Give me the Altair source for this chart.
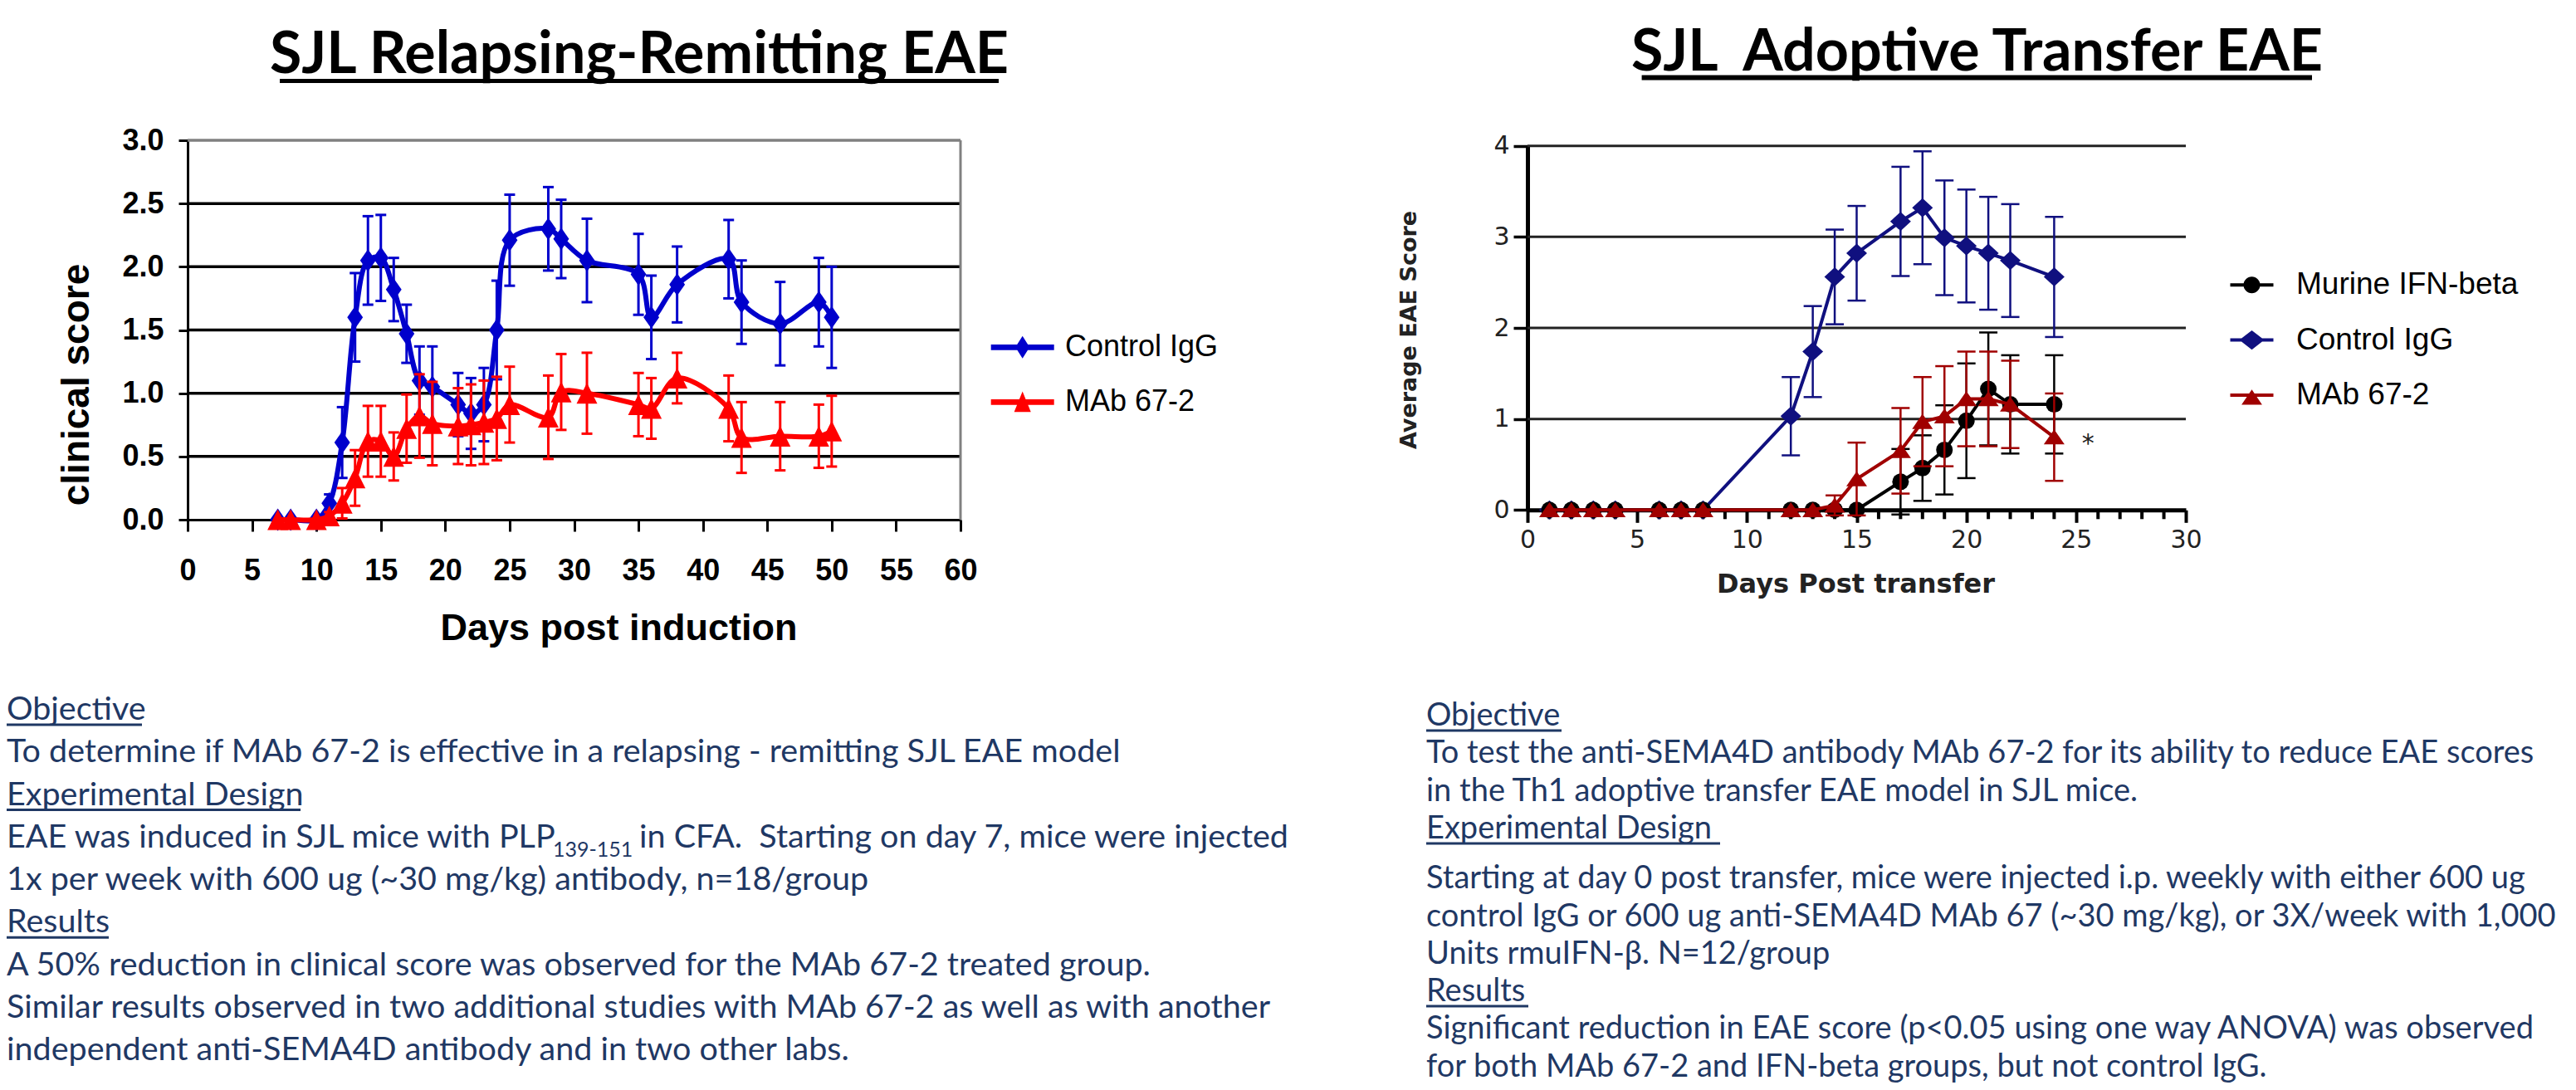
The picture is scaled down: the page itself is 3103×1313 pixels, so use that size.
import altair as alt
import pandas as pd

# ---------------- canvas ----------------
W, H = 3087, 1297
M = 8  # page margin


def px(v):
    return v - M


# ---------------- data: SJL relapsing-remitting EAE ----------------
RR_DAYS = [7, 8, 10, 11, 12, 13, 14, 15, 16, 17, 18, 19, 21, 22, 23, 24, 25, 28, 29, 31, 35, 36, 38, 42, 43, 46, 49, 50]
RR_IGG = [0, 0, 0, 0.13, 0.61, 1.60, 2.05, 2.07, 1.82, 1.47, 1.10, 1.05, 0.91, 0.84, 0.91, 1.50, 2.21, 2.30, 2.22, 2.05,
          1.94, 1.60, 1.86, 2.06, 1.72, 1.55, 1.72, 1.60]
RR_IGG_SE = [0, 0, 0, 0.07, 0.28, 0.35, 0.35, 0.34, 0.25, 0.23, 0.27, 0.32, 0.25, 0.28, 0.29, 0.39, 0.36, 0.33, 0.31,
             0.33, 0.32, 0.33, 0.30, 0.31, 0.33, 0.33, 0.35, 0.40]
RR_MAB = [0, 0, 0, 0.03, 0.13, 0.33, 0.62, 0.62, 0.50, 0.72, 0.82, 0.76, 0.74, 0.75, 0.77, 0.80, 0.91, 0.81, 1.01, 1.00,
          0.91, 0.88, 1.12, 0.88, 0.65, 0.66, 0.66, 0.70]
RR_MAB_SE = [0, 0, 0, 0.03, 0.12, 0.22, 0.28, 0.28, 0.19, 0.27, 0.33, 0.33, 0.30, 0.32, 0.33, 0.33, 0.30, 0.33, 0.30,
             0.32, 0.25, 0.24, 0.20, 0.26, 0.28, 0.27, 0.25, 0.28]
RR_SERIES = ["Control IgG", "MAb 67-2"]
RR_XTICKS = list(range(0, 61, 5))
RR_YTICKS = [0, 0.5, 1.0, 1.5, 2.0, 2.5, 3.0]
RR_GRID = [0.5, 1.0, 1.5, 2.0, 2.5]

# ---------------- data: SJL adoptive transfer EAE ----------------
AT_DAYS = [1, 2, 3, 4, 6, 7, 8, 12, 13, 14, 15, 17, 18, 19, 20, 21, 22, 24]
AT_IFN = [0, 0, 0, 0, 0, 0, 0, 0, 0, 0, 0, 0.31, 0.46, 0.66, 0.98, 1.33, 1.16, 1.16]
AT_IFN_SE = [0, 0, 0, 0, 0, 0, 0, 0, 0, 0, 0, 0.36, 0.36, 0.49, 0.63, 0.62, 0.54, 0.54]
AT_IGG = [0, 0, 0, 0, 0, 0, 0, 1.03, 1.74, 2.56, 2.82, 3.17, 3.32, 2.99, 2.90, 2.82, 2.74, 2.56]
AT_IGG_SE = [0, 0, 0, 0, 0, 0, 0, 0.43, 0.50, 0.52, 0.52, 0.60, 0.62, 0.63, 0.62, 0.62, 0.62, 0.66]
AT_MAB = [0, 0, 0, 0, 0, 0, 0, 0, 0, 0.05, 0.34, 0.65, 0.97, 1.03, 1.22, 1.22, 1.16, 0.80]
AT_MAB_SE = [0, 0, 0, 0, 0, 0, 0, 0, 0, 0.11, 0.40, 0.47, 0.49, 0.55, 0.52, 0.52, 0.48, 0.48]
AT_SERIES = ["Murine IFN-beta", "Control IgG", "MAb 67-2"]
AT_XTICKS = list(range(0, 31, 5))
AT_MINOR = [d for d in range(1, 30) if d % 5 != 0]
AT_YTICKS = [0, 1, 2, 3, 4]
AT_GRID = [1, 2, 3, 4]
AT_STAR = {"day": [25.55], "score": [0.8], "label": ["*"]}

# ---------------- slide text ----------------
TITLE_LEFT = "SJL Relapsing-Remitting EAE"
TITLE_RIGHT = "SJL\u00a0 Adoptive Transfer EAE"
LEFT_LINES = [
    "Objective",
    "\u00a0To determine if MAb 67-2 is effective in a relapsing - remitting SJL EAE model",
    "Experimental Design",
    "",
    "1x per week with 600 ug (~30 mg/kg) antibody, n=18/group",
    "Results",
    "\u00a0A 50% reduction in clinical score was observed for the MAb 67-2 treated group.",
    "Similar results observed in two additional studies with MAb 67-2 as well as with another",
    "independent anti-SEMA4D antibody and in two other labs.",
]
LEFT_SEG = ["EAE was induced in SJL mice with PLP", "139-151", "in CFA.\u00a0 Starting on day 7, mice were injected"]
RIGHT_LINES = [
    "Objective",
    "To test the anti-SEMA4D antibody MAb 67-2 for its ability to reduce EAE scores",
    "in the Th1 adoptive transfer EAE model in SJL mice.",
    "Experimental Design",
    "Starting at day 0 post transfer, mice were injected i.p. weekly with either 600 ug",
    "control IgG or 600 ug anti-SEMA4D MAb 67 (~30 mg/kg), or 3X/week with 1,000",
    "Units rmuIFN-\u03b2. N=12/group",
    "Results",
    "Significant reduction in EAE score (p<0.05 using one way ANOVA) was observed",
    "for both MAb 67-2 and IFN-beta groups, but not control IgG.",
]
HEADINGS = ["Objective", "Experimental Design", "Results"]
HEADING_W = {"Objective": 163, "Experimental Design": 354, "Results": 123}

# ---------------- styles ----------------
NAVY_TXT = "#1F3864"
RR_COLORS = ["#0000CC", "#FF0000"]
AT_COLORS = ["#000000", "#10107F", "#A00000"]

RR_DIAMOND = "M0,-1L0.7,0L0,1L-0.7,0Z"
RR_TRI = "M0,-1L1,1L-1,1Z"
AT_DIAMOND = "M0,-0.92L1,0L0,0.92L-1,0Z"
AT_TRI = "M0,-0.75L1,0.7L-1,0.7Z"

RR_LEG_SHAPES = [
    "M-2,-0.18L2,-0.18L2,0.18L-2,0.18Z M0,-0.71L0.45,0L0,0.71L-0.45,0Z",
    "M-2,-0.18L2,-0.18L2,0.18L-2,0.18Z M0,-0.68L0.53,0.63L-0.53,0.63Z",
]
AT_LEG_SHAPES = [
    "M-1.3,-0.1L1.3,-0.1L1.3,0.1L-1.3,0.1Z M0.5,0A0.5,0.5,0,1,1,-0.5,0A0.5,0.5,0,1,1,0.5,0Z",
    "M-1.3,-0.1L1.3,-0.1L1.3,0.1L-1.3,0.1Z M0,-0.58L0.75,0L0,0.58L-0.75,0Z",
    "M-1.3,-0.1L1.3,-0.1L1.3,0.1L-1.3,0.1Z M0,-0.33L0.62,0.58L-0.62,0.58Z",
]

# ---------------- scales & axes: left ----------------
LX = alt.Scale(domain=[0, 60], range=[px(226), px(1157)], nice=False, zero=False)
LY = alt.Scale(domain=[0, 3], range=[px(626), px(169)], nice=False, zero=False)
LXAX = alt.Axis(orient="bottom", offset=-(H - px(626)), values=RR_XTICKS, format="d", grid=False,
                domainColor="black", domainWidth=3, tickColor="black", tickWidth=3, tickSize=14,
                labelFont="Liberation Sans", labelFontWeight="bold", labelFontSize=36, labelColor="black",
                labelPadding=30, labelFlush=False, labelOverlap=False,
                title="Days post induction", titleFont="Liberation Sans", titleFontSize=45,
                titleFontWeight="bold", titleColor="black", titleX=px(745), titleY=108,
                titleAlign="center", titleBaseline="top")
LYAX = alt.Axis(orient="left", offset=-px(226), values=RR_YTICKS, format=".1f", grid=False,
                domainColor="black", domainWidth=3, tickColor="black", tickWidth=3, tickSize=11,
                labelFont="Liberation Sans", labelFontWeight="bold", labelFontSize=36, labelColor="black",
                labelPadding=18, labelFlush=False, labelOverlap=False,
                title="clinical score", titleFont="Liberation Sans", titleFontSize=46,
                titleFontWeight="bold", titleColor="black", titleAngle=270,
                titleX=92 - 226, titleY=px(463), titleAlign="center", titleBaseline="middle")

# ---------------- scales & axes: right ----------------
RX = alt.Scale(domain=[0, 30], range=[px(1840), px(2633)], nice=False, zero=False)
RY = alt.Scale(domain=[0, 4], range=[px(614.3), px(175.7)], nice=False, zero=False)
RXAX = alt.Axis(orient="bottom", offset=-(H - px(614.3)), values=AT_XTICKS, format="d", grid=False,
                domainColor="black", domainWidth=5, tickColor="black", tickWidth=4, tickSize=15,
                labelFont="DejaVu Sans", labelFontSize=30, labelColor="#222222", labelPadding=6,
                labelFlush=False, labelOverlap=False,
                title="Days Post transfer", titleFont="DejaVu Sans", titleFontSize=32,
                titleFontWeight="bold", titleColor="#222222", titleX=px(2235), titleY=74,
                titleAlign="center", titleBaseline="top")
RYAX = alt.Axis(orient="left", offset=-px(1840), values=AT_YTICKS, format="d", grid=False,
                domainColor="black", domainWidth=5, tickColor="black", tickWidth=3.5, tickSize=17,
                labelFont="DejaVu Sans", labelFontSize=30, labelColor="#222222", labelPadding=5,
                labelFlush=False, labelOverlap=False,
                title="Average EAE Score", titleFont="DejaVu Sans", titleFontSize=27,
                titleFontWeight="bold", titleColor="#222222", titleAngle=270,
                titleX=1697 - 1840, titleY=px(397), titleAlign="center", titleBaseline="middle")


def series_df(days, mean, se, name):
    return pd.DataFrame({
        "day": days, "mean": mean, "se": se,
        "lo": [m - s for m, s in zip(mean, se)],
        "hi": [m + s for m, s in zip(mean, se)],
        "group": name,
    })


def series_layers(df, color, xs, ys, xax, yax, line_w, err_w, cap, shape, size, interp):
    base = alt.Chart(df)
    X = alt.X("day:Q", scale=xs, axis=xax)
    err = base.transform_filter("datum.se > 0")
    return [
        err.mark_rule(color=color, strokeWidth=err_w).encode(
            x=X, y=alt.Y("lo:Q", scale=ys, axis=yax), y2=alt.Y2("hi:Q")),
        err.mark_rule(color=color, strokeWidth=err_w, xOffset=-cap, x2Offset=cap).encode(
            x=X, x2=alt.X2("day:Q"), y=alt.Y("hi:Q", scale=ys, axis=yax)),
        err.mark_rule(color=color, strokeWidth=err_w, xOffset=-cap, x2Offset=cap).encode(
            x=X, x2=alt.X2("day:Q"), y=alt.Y("lo:Q", scale=ys, axis=yax)),
        base.mark_line(color=color, strokeWidth=line_w, interpolate=interp).encode(
            x=X, y=alt.Y("mean:Q", scale=ys, axis=yax)),
        base.mark_point(filled=True, shape=shape, size=size, color=color, opacity=1, strokeWidth=0).encode(
            x=X, y=alt.Y("mean:Q", scale=ys, axis=yax)),
    ]


def legend_layer(series, colors, shapes, xs, ys, xax, yax, leg):
    df = pd.DataFrame({"group": series, "day": [0] * len(series), "mean": [0] * len(series)})
    return alt.Chart(df).transform_filter("false").mark_point(filled=True, opacity=1).encode(
        x=alt.X("day:Q", scale=xs, axis=xax),
        y=alt.Y("mean:Q", scale=ys, axis=yax),
        color=alt.Color("group:N", scale=alt.Scale(domain=series, range=colors), legend=leg),
        shape=alt.Shape("group:N", scale=alt.Scale(domain=series, range=shapes), legend=leg),
    )


# ---------------- left chart ----------------
one = pd.DataFrame({"k": [0]})
l_grid = alt.Chart(pd.DataFrame({"v": RR_GRID})).mark_rule(color="black", strokeWidth=3.5).encode(
    x=alt.X(datum=0, scale=LX, axis=LXAX), x2=alt.X2(datum=60), y=alt.Y("v:Q", scale=LY, axis=LYAX))
l_top = alt.Chart(one).mark_rule(color="#808080", strokeWidth=3.5).encode(
    x=alt.X(datum=0, scale=LX, axis=LXAX), x2=alt.X2(datum=60), y=alt.Y(datum=3, scale=LY, axis=LYAX))
l_right = alt.Chart(one).mark_rule(color="#808080", strokeWidth=3).encode(
    x=alt.X(datum=60, scale=LX, axis=LXAX), y=alt.Y(datum=0, scale=LY, axis=LYAX), y2=alt.Y2(datum=3))

LLEG = alt.Legend(orient="none", legendX=1204.7, legendY=391.3, title=None, padding=0, direction="vertical",
                  labelFont="Liberation Sans", labelFontSize=36, labelColor="black", labelOffset=32.3,
                  rowPadding=29, symbolSize=1444, symbolStrokeWidth=0, symbolOpacity=1, labelLimit=800)

left_layers = [l_grid, l_top, l_right]
left_layers += series_layers(series_df(RR_DAYS, RR_IGG, RR_IGG_SE, RR_SERIES[0]), RR_COLORS[0], LX, LY, LXAX, LYAX,
                             6, 3, 6.5, RR_DIAMOND, 729, "catmull-rom")
left_layers += series_layers(series_df(RR_DAYS, RR_MAB, RR_MAB_SE, RR_SERIES[1]), RR_COLORS[1], LX, LY, LXAX, LYAX,
                             6, 3, 6.5, RR_TRI, 625, "catmull-rom")
left_layers.append(legend_layer(RR_SERIES, RR_COLORS, RR_LEG_SHAPES, LX, LY, LXAX, LYAX, LLEG))
left = alt.layer(*left_layers)

# ---------------- right chart ----------------
r_grid = alt.Chart(pd.DataFrame({"v": AT_GRID})).mark_rule(color="#222222", strokeWidth=3).encode(
    x=alt.X(datum=0, scale=RX, axis=RXAX), x2=alt.X2(datum=30), y=alt.Y("v:Q", scale=RY, axis=RYAX))
r_minor = alt.Chart(pd.DataFrame({"t": AT_MINOR})).mark_rule(color="black", strokeWidth=4, y2Offset=11).encode(
    x=alt.X("t:Q", scale=RX, axis=RXAX), y=alt.Y(datum=0, scale=RY, axis=RYAX), y2=alt.Y2(datum=0))

RLEG = alt.Legend(orient="none", legendX=2684.5, legendY=315.3, title=None, padding=0, direction="vertical",
                  labelFont="Liberation Sans", labelFontSize=37, labelColor="black", labelOffset=33.5,
                  rowPadding=28.3, symbolSize=1600, symbolStrokeWidth=0, symbolOpacity=1, labelLimit=800)

right_layers = [r_grid, r_minor]
right_layers += series_layers(series_df(AT_DAYS, AT_IGG, AT_IGG_SE, AT_SERIES[1]), AT_COLORS[1], RX, RY, RXAX, RYAX,
                              4, 2.5, 11, AT_DIAMOND, 625, "linear")
right_layers += series_layers(series_df(AT_DAYS, AT_IFN, AT_IFN_SE, AT_SERIES[0]), AT_COLORS[0], RX, RY, RXAX, RYAX,
                              4, 2.5, 11, "circle", 400, "linear")
right_layers += series_layers(series_df(AT_DAYS, AT_MAB, AT_MAB_SE, AT_SERIES[2]), AT_COLORS[2], RX, RY, RXAX, RYAX,
                              4, 2.5, 11, AT_TRI, 625, "linear")
right_layers.append(alt.Chart(pd.DataFrame(AT_STAR)).mark_text(
    font="DejaVu Sans", fontSize=30, color="#222222", align="center", baseline="middle", dy=8).encode(
    x=alt.X("day:Q", scale=RX, axis=RXAX), y=alt.Y("score:Q", scale=RY, axis=RYAX), text="label:N"))
right_layers.append(legend_layer(AT_SERIES, AT_COLORS, AT_LEG_SHAPES, RX, RY, RXAX, RYAX, RLEG))
right = alt.layer(*right_layers)

# ---------------- slide text ----------------
TX = alt.Scale(domain=[0, W], range=[0, W], nice=False, zero=False)
TY = alt.Scale(domain=[0, H], range=[0, H], nice=False, zero=False)


def tx(field):
    return alt.X(field, scale=TX, axis=None)


def ty(field):
    return alt.Y(field, scale=TY, axis=None)


LEFT_X, LEFT_TOP, LEFT_STEP = 0, px(855), 51.25
RIGHT_X, RIGHT_TOP, RIGHT_STEP, RIGHT_GAP = px(1718), px(863), 45.3, 15
LEFT_FS, RIGHT_FS = 39.5, 38


def left_y(i):
    return LEFT_TOP + i * LEFT_STEP


def right_y(i):
    return RIGHT_TOP + i * RIGHT_STEP + (RIGHT_GAP if i >= 4 else 0)


lrows = [{"text": t, "x": LEFT_X, "y": left_y(i)} for i, t in enumerate(LEFT_LINES) if t]
lrows.append({"text": LEFT_SEG[0], "x": LEFT_X, "y": left_y(3)})
lrows.append({"text": LEFT_SEG[2], "x": px(770), "y": left_y(3)})
rrows = [{"text": t, "x": RIGHT_X, "y": right_y(i)} for i, t in enumerate(RIGHT_LINES)]
sub_df = pd.DataFrame([{"text": LEFT_SEG[1], "x": px(666), "y": left_y(3) + 15}])

ul = []
for i, t in enumerate(LEFT_LINES):
    if t in HEADINGS:
        ul.append({"x": LEFT_X, "x2": LEFT_X + HEADING_W[t], "y": left_y(i) + 18})
for i, t in enumerate(RIGHT_LINES):
    if t in HEADINGS:
        ul.append({"x": RIGHT_X, "x2": RIGHT_X + HEADING_W[t], "y": right_y(i) + 17})
ul_df = pd.DataFrame(ul)

titles_df = pd.DataFrame([
    {"text": TITLE_LEFT, "x": px(770), "y": px(88)},
    {"text": TITLE_RIGHT, "x": px(2381.5), "y": px(85)},
])
title_ul_df = pd.DataFrame([
    {"x": px(337), "x2": px(1203), "y": px(97.5), "w": 5},
    {"x": px(1977.6), "x2": px(2785), "y": px(93.5), "w": 6},
])

body_l = alt.Chart(pd.DataFrame(lrows)).mark_text(font="Lato", fontSize=LEFT_FS, color=NAVY_TXT, align="left",
                                                  baseline="middle").encode(x=tx("x:Q"), y=ty("y:Q"), text="text:N")
body_r = alt.Chart(pd.DataFrame(rrows)).mark_text(font="Lato", fontSize=RIGHT_FS, color=NAVY_TXT, align="left",
                                                  baseline="middle").encode(x=tx("x:Q"), y=ty("y:Q"), text="text:N")
sub = alt.Chart(sub_df).mark_text(font="Lato", fontSize=25, color=NAVY_TXT, align="left",
                                  baseline="middle").encode(x=tx("x:Q"), y=ty("y:Q"), text="text:N")
unders = alt.Chart(ul_df).mark_rule(color=NAVY_TXT, strokeWidth=3).encode(
    x=tx("x:Q"), x2=alt.X2("x2:Q"), y=ty("y:Q"))
titles = alt.Chart(titles_df).mark_text(font="Lato", fontWeight="bold", fontSize=70, color="black",
                                        align="center", baseline="alphabetic").encode(
    x=tx("x:Q"), y=ty("y:Q"), text="text:N")
title_ul = alt.Chart(title_ul_df).mark_rule(color="black").encode(
    x=tx("x:Q"), x2=alt.X2("x2:Q"), y=ty("y:Q"), strokeWidth=alt.StrokeWidth("w:Q", scale=None, legend=None))

texts = alt.layer(body_l, body_r, sub, unders, titles, title_ul)

chart = alt.layer(left, right, texts).resolve_scale(
    x="independent", y="independent", color="independent", shape="independent"
).resolve_legend(color="independent", shape="independent").properties(
    width=W, height=H, autosize=alt.AutoSizeParams(type="none"), padding=0, background="white"
).configure_view(strokeWidth=0)

chart.save("out.html", embed_options={"renderer": "svg", "actions": False})
